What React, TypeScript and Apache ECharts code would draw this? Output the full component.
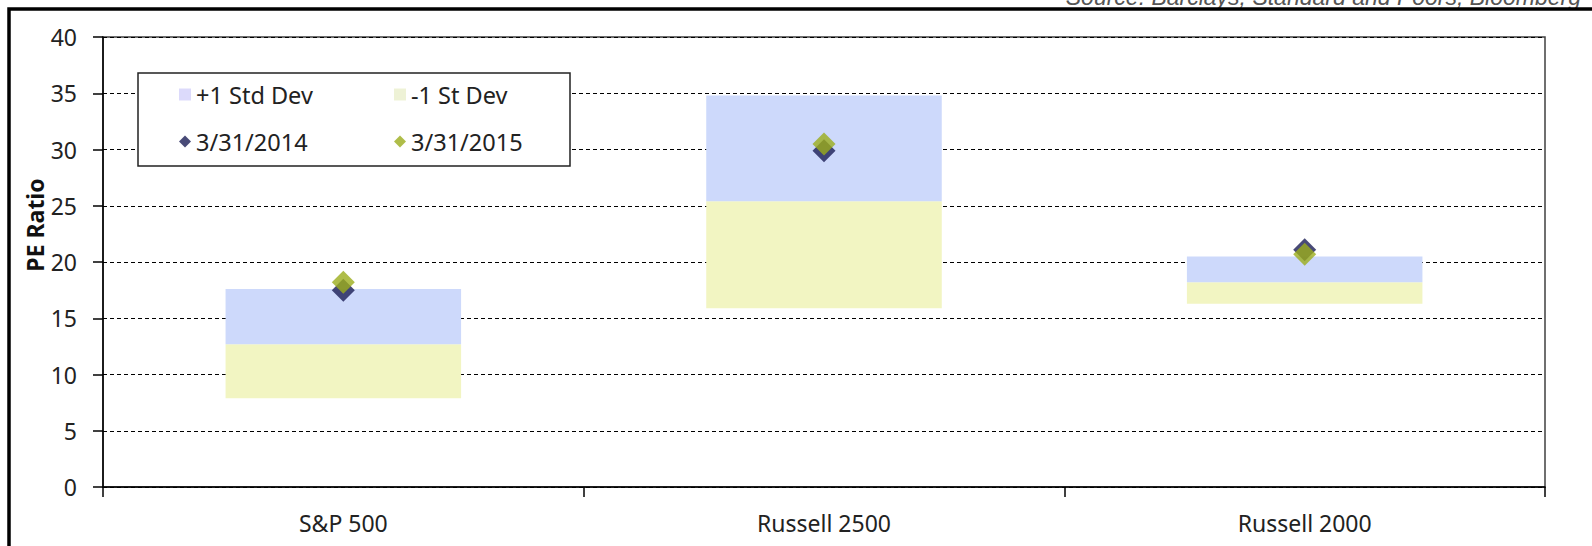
import React, { useEffect, useRef } from 'react';
import * as echarts from 'echarts';

// ---- data ----
const categories = ['S&P 500', 'Russell 2500', 'Russell 2000'];
const minusOneStd = [7.9, 15.9, 16.3]; // bottom of the -1 St Dev band
const meanPE = [12.7, 25.4, 18.2]; // boundary between the two bands
const plusOneStd = [17.6, 34.8, 20.5]; // top of the +1 Std Dev band
const pe2014 = [17.5, 29.9, 21.1];
const pe2015 = [18.2, 30.5, 20.7];
const yMin = 0;
const yMax = 40;
const yStep = 5;

const FONT = '"Noto Sans", sans-serif';
const BLUE = '#cdd9fb';
const YELLOW = '#f2f5c2';
const NAVY = '#1a1d55';
const OLIVE = '#9bad1c';

export default function App() {
  const ref = useRef<HTMLDivElement>(null);

  useEffect(() => {
    document.body.style.margin = '0';
    if (!ref.current) return;
    const chart = echarts.init(ref.current, undefined, { renderer: 'svg' });

    const lowerHeights = meanPE.map((m, i) => +(m - minusOneStd[i]).toFixed(2));
    const upperHeights = plusOneStd.map((u, i) => +(u - meanPE[i]).toFixed(2));

    const option: any = {
      animation: false,
      backgroundColor: '#ffffff',
      textStyle: { fontFamily: FONT },
      grid: {
        left: 103,
        right: 47,
        top: 37,
        bottom: 59,
        show: true,
        borderColor: '#404040',
        borderWidth: 1.5,
        backgroundColor: 'transparent',
        containLabel: false,
        outerBoundsMode: 'none',
      },
      xAxis: {
        type: 'category',
        data: categories,
        boundaryGap: true,
        axisLine: { show: true, lineStyle: { color: '#000', width: 1.5 } },
        axisTick: { show: true, length: 10, alignWithLabel: false, lineStyle: { color: '#000', width: 1.5 } },
        axisLabel: { fontSize: 23, color: '#222', margin: 24, fontFamily: FONT },
        splitLine: { show: false },
      },
      yAxis: {
        type: 'value',
        min: yMin,
        max: yMax,
        interval: yStep,
        axisLine: { show: true, lineStyle: { color: '#000', width: 1.5 } },
        axisTick: { show: true, length: 10, lineStyle: { color: '#000', width: 1.5 } },
        axisLabel: { fontSize: 23, color: '#222', margin: 26, fontFamily: FONT },
        splitLine: { show: true, lineStyle: { color: '#000', width: 1, type: [4, 3] } },
      },
      legend: {
        left: 179,
        top: 76,
        width: 430,
        padding: 0,
        itemGap: 10,
        itemWidth: 12,
        itemHeight: 12,
        orient: 'horizontal',
        selectedMode: false,
        z: 10,
        data: [
          { name: '+1 Std Dev', icon: 'rect', itemStyle: { color: '#dcdafb' } },
          { name: '-1 St Dev', icon: 'rect', itemStyle: { color: '#eef2d6' } },
          { name: '3/31/2014', icon: 'diamond' },
          { name: '3/31/2015', icon: 'diamond' },
        ],
        textStyle: { fontSize: 23.5, color: '#222', width: 188, lineHeight: 37, fontFamily: FONT },
      },
      series: [
        {
          name: 'base',
          type: 'bar',
          stack: 'band',
          barWidth: '49%',
          silent: true,
          itemStyle: { color: 'transparent' },
          data: minusOneStd,
        },
        {
          name: '-1 St Dev',
          type: 'bar',
          stack: 'band',
          barWidth: '49%',
          itemStyle: { color: YELLOW },
          data: lowerHeights,
        },
        {
          name: '+1 Std Dev',
          type: 'bar',
          stack: 'band',
          barWidth: '49%',
          itemStyle: { color: BLUE },
          data: upperHeights,
        },
        {
          name: '3/31/2014',
          type: 'scatter',
          symbol: 'diamond',
          symbolSize: 23,
          itemStyle: { color: NAVY },
          z: 5,
          data: pe2014,
        },
        {
          name: '3/31/2015',
          type: 'scatter',
          symbol: 'diamond',
          symbolSize: 23,
          itemStyle: { color: OLIVE },
          z: 6,
          data: pe2015,
        },
      ],
      graphic: [
        {
          type: 'rect',
          z: 8,
          shape: { x: 138, y: 73, width: 432, height: 93 },
          style: { fill: '#ffffff', stroke: '#222', lineWidth: 1.5 },
        },
        {
          type: 'text',
          x: 35,
          y: 225,
          rotation: Math.PI / 2,
          z: 8,
          style: {
            text: 'PE Ratio',
            fontFamily: FONT,
            fontSize: 23,
            fontWeight: 'bold',
            fill: '#111',
            align: 'center',
            verticalAlign: 'middle',
          },
        },
        {
          type: 'text',
          x: 1581,
          y: -3,
          z: 8,
          style: {
            text: 'Source: Barclays, Standard and Poors, Bloomberg',
            fontFamily: '"Liberation Sans", Arial, sans-serif',
            fontSize: 23,
            fontStyle: 'italic',
            fill: '#555',
            align: 'right',
            verticalAlign: 'middle',
          },
        },
        {
          type: 'rect',
          z: 20,
          shape: { x: 9, y: 9, width: 1800, height: 800 },
          style: { fill: 'none', stroke: '#000', lineWidth: 3.5 },
        },
      ],
    };

    chart.setOption(option);
    return () => chart.dispose();
  }, []);

  return <div ref={ref} style={{ width: 1592, height: 546 }} />;
}
